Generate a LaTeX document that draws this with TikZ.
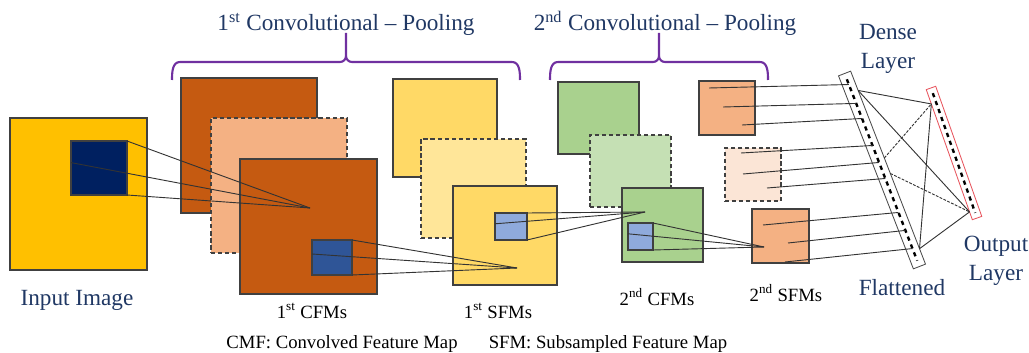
\documentclass[tikz,border=0pt]{standalone}
\usepackage{fontspec}
\setmainfont{Liberation Serif}
\usetikzlibrary{calc}

\definecolor{inyel}{HTML}{FFC000}
\definecolor{navy}{HTML}{002060}
\definecolor{corange}{HTML}{C55A11}
\definecolor{clight}{HTML}{F4B183}
\definecolor{cblue}{HTML}{2F5597}
\definecolor{syel}{HTML}{FFD966}
\definecolor{slight}{HTML}{FFE699}
\definecolor{sblue}{HTML}{8FAADC}
\definecolor{cgreen}{HTML}{A9D18E}
\definecolor{lgreen}{HTML}{C5E0B4}
\definecolor{speach}{HTML}{F4B183}
\definecolor{lpeach}{HTML}{FBE5D6}
\definecolor{brc}{HTML}{7030A0}
\definecolor{lblue}{HTML}{203864}
\definecolor{obar}{HTML}{E8555E}

\tikzset{
  fmap/.style={draw=black!75, line width=0.9pt, inner sep=0pt, outer sep=0pt, anchor=north west},
  ghost/.style={fmap, dash pattern=on 3pt off 2pt},
  sz/.style 2 args={minimum width=#1*0.025cm, minimum height=#2*0.025cm},
  bar/.style={draw=black!70, line width=0.6pt, fill=white, inner sep=0pt, outer sep=0pt},
  midline/.style={line width=1.7pt, dash pattern=on 3pt off 3pt},
  link/.style={black!80, line width=0.65pt},
  brace/.style={draw=brc, line width=1.5pt},
  bluelbl/.style={text=lblue, font=\fontsize{16.5}{20.5}\selectfont, inner sep=0pt},
  blacklbl/.style={font=\fontsize{13.3}{16}\selectfont, inner sep=0pt},
}

\begin{document}
\begin{tikzpicture}[x=0.025cm, y=-0.025cm]
  \useasboundingbox (0,0) rectangle (1029,353);

  % input image with its receptive field
  \node[fmap, fill=inyel, sz={137}{152}] (inp) at (10,118) {};
  \node[fmap, fill=navy, sz={56}{54}] (nv) at (71,141) {};

  % 1st convolved feature maps
  \node[fmap, fill=corange, sz={136}{135}] (c1a) at (181,78) {};
  \node[ghost, fill=clight, sz={136}{135}] (c1b) at (211,118) {};
  \node[fmap, fill=corange, sz={137}{135}] (c1c) at (240,159) {};
  \node[fmap, fill=cblue, sz={40}{35}] (cb1) at (312,240) {};

  % 1st subsampled feature maps
  \node[fmap, fill=syel, sz={104}{98}] (s1a) at (393,79) {};
  \node[ghost, fill=slight, sz={105}{99}] (s1b) at (421,139) {};
  \node[fmap, fill=syel, sz={104}{99}] (s1c) at (453,186) {};
  \node[fmap, fill=sblue, sz={32}{27}] (sb1) at (495,213) {};

  % 2nd convolved feature maps
  \node[fmap, fill=cgreen, sz={81}{72}] (c2a) at (558,82) {};
  \node[ghost, fill=lgreen, sz={81}{72}] (c2b) at (590,135) {};
  \node[fmap, fill=cgreen, sz={81}{74}] (c2c) at (622,188) {};
  \node[fmap, fill=sblue, sz={25}{27}] (cb2) at (628,223) {};

  % 2nd subsampled feature maps
  \node[fmap, fill=speach, sz={56}{54}] (s2a) at (699,81) {};
  \node[ghost, fill=lpeach, sz={56}{53}] (s2b) at (725,148) {};
  \node[fmap, fill=speach, sz={57}{54}] (s2c) at (752,209) {};

  % flattened and output layers (tilted bars)
  \node[bar, sz={13}{207}, rotate=21.2] (fl) at (882,170) {};
  \draw[midline] ($(fl.north)!0.03!(fl.south)$) -- ($(fl.north)!0.97!(fl.south)$);
  \node[bar, draw=obar, sz={10}{138}, rotate=19.5] (ol) at (954,153) {};
  \draw[midline] ($(ol.north)!0.04!(ol.south)$) -- ($(ol.north)!0.96!(ol.south)$);

  % convolution / pooling links
  \coordinate (p1) at (310,208);
  \coordinate (p2) at (517,268);
  \coordinate (p3) at (645,212);
  \coordinate (p4) at (764,247);
  \foreach \src/\dst in {nv/p1, cb1/p2, sb1/p3, cb2/p4} {
    \draw[link] (\src.north east) -- (\dst);
    \draw[link] ($(\src.north west)!0.4!(\src.south west)$) -- (\dst);
    \draw[link] (\src.south east) -- (\dst);
  }

  % flattening
  \foreach \m/\dx/\dy/\t in {s2a/10/7/0.057, s2a/24/26/0.155, s2a/43/44/0.233,
      s2b/16/5/0.373, s2b/18/26/0.461, s2b/42/40/0.544,
      s2c/11/16/0.72, s2c/36/34/0.813, s2c/33/53/0.907}
    \draw[link] ($(\m.north west)+(\dx,\dy)$) -- ($(fl.north)!\t!(fl.south)$);

  % dense connections
  \coordinate (fa) at ($(fl.north east)!0.10!(fl.south east)$);
  \coordinate (fb) at ($(fl.north east)!0.45!(fl.south east)$);
  \coordinate (fc) at ($(fl.north east)!0.53!(fl.south east)$);
  \coordinate (fd) at ($(fl.north east)!0.92!(fl.south east)$);
  \coordinate (oa) at ($(ol.north west)!0.11!(ol.south west)$);
  \coordinate (ob) at ($(ol.north west)!0.94!(ol.south west)$);
  \draw[link] (fa) -- (oa);
  \draw[link] (fa) -- (ob);
  \draw[link, dash pattern=on 2pt off 1pt] (fb) -- (oa);
  \draw[link, dash pattern=on 2pt off 1pt] (fc) -- (ob);
  \draw[link] (fd) -- (oa);
  \draw[link] (fd) -- (ob);

  % braces
  \draw[brace] (172,80) to[out=90,in=180] (180,62) -- (340,62) to[out=0,in=-90] (346,56) -- (346,33);
  \draw[brace] (346,56) to[out=-90,in=180] (352,62) -- (512,62) to[out=0,in=90] (520,80);
  \draw[brace] (550,80) to[out=90,in=180] (558,62) -- (653,62) to[out=0,in=-90] (659,56) -- (659,33);
  \draw[brace] (659,56) to[out=-90,in=180] (665,62) -- (760,62) to[out=0,in=90] (768,80);

  % labels
  \node[bluelbl, anchor=base] (t1) at (346,31) {1\textsuperscript{st} Convolutional -- Pooling};
  \node[bluelbl, anchor=base] (t2) at (665,31) {2\textsuperscript{nd} Convolutional -- Pooling};
  \node[bluelbl, align=center] (tdn) at (888,49) {Dense\\Layer};
  \node[bluelbl, align=center] (tout) at (996,261) {Output\\Layer};
  \node[bluelbl, anchor=base] (tfl) at (902,295) {Flattened};
  \node[bluelbl, anchor=base] (tin) at (77,305) {Input Image};
  \node[blacklbl, anchor=base] (tc1) at (312,318) {1\textsuperscript{st} CFMs};
  \node[blacklbl, anchor=base] (ts1) at (498,318) {1\textsuperscript{st} SFMs};
  \node[blacklbl, anchor=base] (tc2) at (657,305) {2\textsuperscript{nd} CFMs};
  \node[blacklbl, anchor=base] (ts2) at (786,301) {2\textsuperscript{nd} SFMs};
  \node[blacklbl, anchor=base] (lg1) at (342,348) {CMF: Convolved Feature Map};
  \node[blacklbl, anchor=base] (lg2) at (608,348) {SFM: Subsampled Feature Map};
\end{tikzpicture}
\end{document}
